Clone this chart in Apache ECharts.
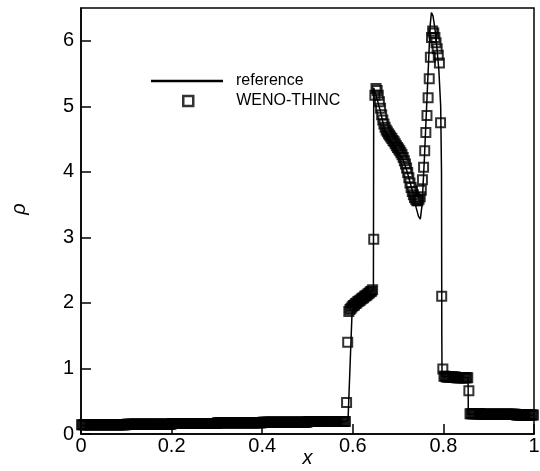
<!DOCTYPE html>
<html>
<head>
<meta charset="utf-8">
<script src="https://cdn.jsdelivr.net/npm/echarts@6/dist/echarts.min.js"></script>
<style>html,body{margin:0;padding:0;background:#fff;}#c{width:540px;height:471px;}</style>
</head>
<body>
<div id="c"></div>
<script>
// x ticks / y ticks
var xTicks = [0, 0.2, 0.4, 0.6, 0.8, 1];
var yTicks = [0, 1, 2, 3, 4, 5, 6];

// reference solution (line)
var refX = [0, 0.585, 0.5895, 0.5985, 0.62, 0.6455, 0.6462, 0.652, 0.66, 0.67, 0.68, 0.69, 0.70, 0.71, 0.72, 0.73, 0.74, 0.745, 0.749, 0.753, 0.758, 0.763, 0.768, 0.771, 0.7735, 0.777, 0.781, 0.785, 0.79, 0.794, 0.7958, 0.7965, 0.797, 0.83, 0.8545, 0.855, 0.9, 1.0];
var refY = [0.13, 0.19, 0.22, 1.88, 2.03, 2.2, 5.28, 5.15, 4.95, 4.65, 4.5, 4.4, 4.3, 4.2, 4.0, 3.75, 3.45, 3.32, 3.28, 3.5, 4.2, 5.0, 5.8, 6.25, 6.43, 6.38, 6.2, 5.95, 5.55, 5.0, 4.0, 1.5, 0.88, 0.87, 0.86, 0.3, 0.3, 0.29];

// WENO-THINC cell values, 400 uniform cells on [0,1]
var wenoY = [
0.14,0.14,0.14,0.14,0.14,0.14,0.14,0.14,0.14,0.14,0.14,0.14,0.14,0.14,0.14,0.14,0.14,0.14,0.14,0.14,
0.14,0.14,0.14,0.14,0.14,0.14,0.14,0.14,0.14,0.14,0.14,0.14,0.14,0.14,0.14,0.14,0.14,0.14,0.14,0.14,
0.15,0.15,0.15,0.15,0.15,0.15,0.15,0.15,0.15,0.15,0.15,0.15,0.15,0.15,0.15,0.15,0.15,0.15,0.15,0.15,
0.15,0.15,0.15,0.15,0.15,0.15,0.15,0.15,0.15,0.15,0.15,0.15,0.15,0.15,0.15,0.15,0.15,0.15,0.15,0.15,
0.16,0.16,0.16,0.16,0.16,0.16,0.16,0.16,0.16,0.16,0.16,0.16,0.16,0.16,0.16,0.16,0.16,0.16,0.16,0.16,
0.16,0.16,0.16,0.16,0.16,0.16,0.16,0.16,0.16,0.16,0.16,0.16,0.16,0.16,0.16,0.16,0.16,0.16,0.16,0.16,
0.17,0.17,0.17,0.17,0.17,0.17,0.17,0.17,0.17,0.17,0.17,0.17,0.17,0.17,0.17,0.17,0.17,0.17,0.17,0.17,
0.17,0.17,0.17,0.17,0.17,0.17,0.17,0.17,0.17,0.17,0.17,0.17,0.17,0.17,0.17,0.17,0.17,0.17,0.17,0.17,
0.18,0.18,0.18,0.18,0.18,0.18,0.18,0.18,0.18,0.18,0.18,0.18,0.18,0.18,0.18,0.18,0.18,0.18,0.18,0.18,
0.18,0.18,0.18,0.18,0.18,0.18,0.18,0.18,0.18,0.18,0.18,0.18,0.18,0.18,0.18,0.18,0.18,0.18,0.18,0.18,
0.19,0.19,0.19,0.19,0.19,0.19,0.19,0.19,0.19,0.19,0.19,0.19,0.19,0.19,0.19,0.19,0.19,0.19,0.19,0.19,
0.19,0.19,0.19,0.19,0.19,0.19,0.19,0.19,0.19,0.19,0.19,0.19,0.19,0.19,
0.48,1.40,
1.87,1.90,1.92,1.94,1.96,1.97,1.99,2.00,2.02,2.03,2.04,2.06,2.07,2.08,2.10,2.11,2.12,2.14,2.15,2.17,2.18,2.20,
2.97,5.17,5.27,5.24,
5.17,5.07,4.97,4.87,4.79,4.73,4.68,4.64,4.61,4.58,4.56,4.53,4.51,4.48,4.46,4.43,4.40,4.37,4.35,4.32,
4.29,4.26,4.22,4.17,4.12,4.06,3.99,3.91,3.83,3.76,3.70,3.65,3.61,3.58,3.56,3.56,
3.58,3.62,3.72,3.88,4.07,4.32,4.60,4.86,5.13,5.42,5.75,6.05,6.15,6.12,6.05,5.97,5.88,5.78,5.66,
4.75,2.10,0.99,
0.88,0.88,0.87,0.87,0.87,0.87,0.87,0.87,0.87,0.87,0.87,0.86,0.86,0.86,0.86,0.86,0.86,0.86,0.86,0.86,0.86,0.86,
0.66,
0.31,0.31,0.31,0.31,0.31,0.31,0.31,0.31,0.31,0.31,0.30,0.30,0.30,0.30,0.30,0.30,0.30,0.30,0.30,0.30,
0.30,0.30,0.30,0.30,0.30,0.30,0.30,0.30,0.30,0.30,0.30,0.30,0.30,0.30,0.30,0.30,0.30,0.30,0.30,0.30,
0.30,0.29,0.29,0.29,0.29,0.29,0.29,0.29,0.29,0.29,0.29,0.29,0.29,0.29,0.29,0.29,0.29
];
var nCells = 400;

var refData = refX.map(function (x, i) { return [x, refY[i]]; });
var wenoData = wenoY.map(function (y, i) { return [(i + 0.5) / nCells, y]; });

var chart = echarts.init(document.getElementById('c'));
var font = '"Liberation Sans", Arial, sans-serif';
chart.setOption({
  animation: false,
  backgroundColor: '#fff',
  grid: { left: 81, right: 6, top: 8, bottom: 37, show: true, borderColor: '#000', borderWidth: 1.5,
          backgroundColor: 'transparent', containLabel: false, outerBoundsMode: 'none' },
  legend: [
    {
      orient: 'vertical', left: 151, top: 73, padding: 0, itemWidth: 72, itemHeight: 2.5,
      icon: 'rect', itemStyle: { color: '#000', borderWidth: 0 },
      textStyle: { fontFamily: font, fontSize: 16, color: '#000', padding: [0, 0, 0, 8] },
      data: ['reference']
    },
    {
      orient: 'vertical', left: 182, top: 93, padding: 0, itemWidth: 10, itemHeight: 10,
      icon: 'rect', itemStyle: { color: 'rgba(0,0,0,0)', borderColor: '#000', borderWidth: 2.5 },
      textStyle: { fontFamily: font, fontSize: 16, color: '#000', padding: [0, 0, 0, 38] },
      data: ['WENO-THINC']
    }
  ],
  xAxis: {
    type: 'value', min: xTicks[0], max: xTicks[xTicks.length - 1], interval: 0.2,
    name: 'x', nameLocation: 'middle', nameGap: 14, nameMoveOverlap: false,
    nameTextStyle: { fontFamily: font, fontSize: 20, fontStyle: 'italic', color: '#000' },
    axisLine: { lineStyle: { color: '#000', width: 1.5 } },
    axisTick: { inside: true, length: 10, lineStyle: { color: '#000', width: 1.5 } },
    axisLabel: { fontFamily: font, fontSize: 20, color: '#000', margin: 2,
      formatter: function (v) { return xTicks.indexOf(Math.round(v * 10) / 10) >= 0 ? String(Math.round(v * 10) / 10) : ''; } },
    splitLine: { show: false }
  },
  yAxis: {
    type: 'value', min: 0, max: 6.5, interval: 1,
    name: 'ρ', nameLocation: 'middle', nameGap: 52, nameRotate: 90, nameMoveOverlap: false,
    nameTextStyle: { fontFamily: font, fontSize: 20, fontStyle: 'italic', color: '#000', padding: [0, 0, 0, 24] },
    axisLine: { lineStyle: { color: '#000', width: 1.5 } },
    axisTick: { inside: true, length: 10, lineStyle: { color: '#000', width: 1.5 } },
    axisLabel: { fontFamily: font, fontSize: 20, color: '#000', margin: 7, showMaxLabel: false,
      formatter: function (v) { return yTicks.indexOf(v) >= 0 ? String(v) : ''; } },
    splitLine: { show: false }
  },
  series: [
    { name: 'reference', type: 'line', data: refData, symbol: 'none', showSymbol: false,
      lineStyle: { color: '#000', width: 1.5 }, itemStyle: { color: '#000' }, z: 3 },
    { name: 'WENO-THINC', type: 'scatter', data: wenoData, symbol: 'rect', symbolSize: 9,
      itemStyle: { color: 'rgba(0,0,0,0)', borderColor: '#000', borderWidth: 2 }, z: 2 }
  ]
});
</script>
</body>
</html>
